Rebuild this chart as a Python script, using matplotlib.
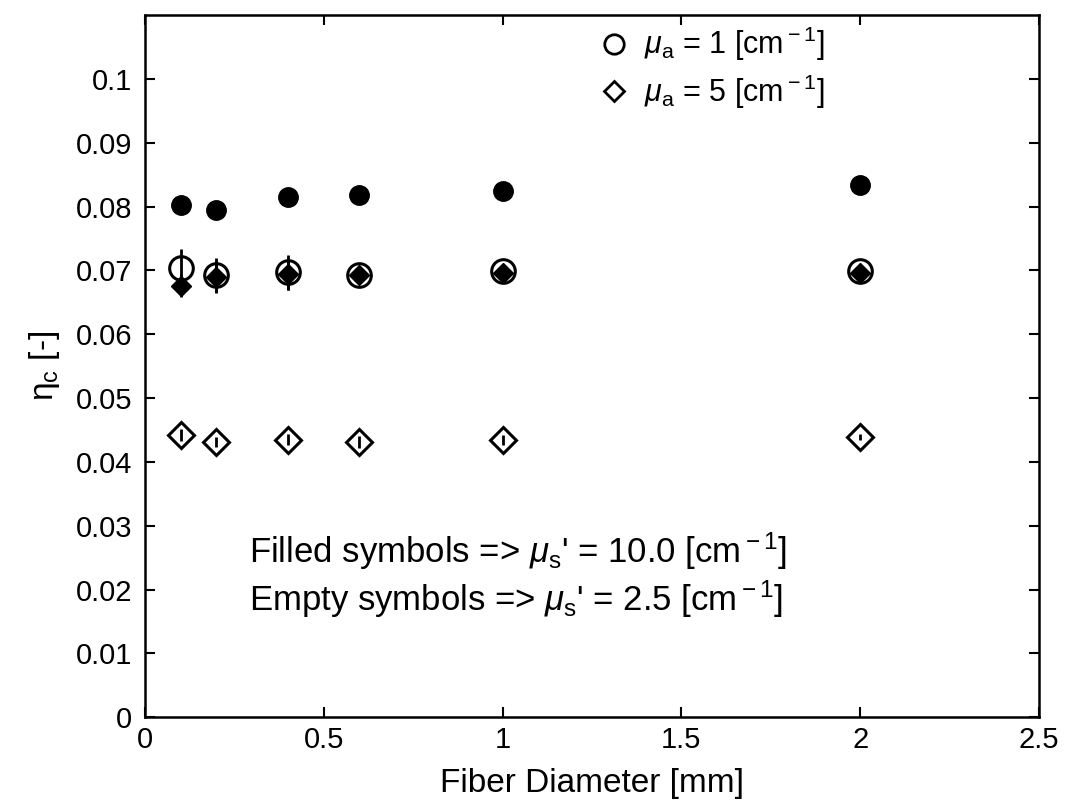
import matplotlib
matplotlib.use("Agg")
import matplotlib.pyplot as plt
from matplotlib.lines import Line2D

plt.rcParams['font.family'] = ['Liberation Sans', 'DejaVu Sans']
plt.rcParams['mathtext.fontset'] = 'custom'
plt.rcParams['mathtext.rm'] = 'Liberation Sans'
plt.rcParams['mathtext.it'] = 'Liberation Sans:italic'
plt.rcParams['mathtext.bf'] = 'Liberation Sans:bold'

# Diametro da fibra [mm]
diam = [0.1, 0.2, 0.4, 0.6, 1.0, 2.0]

# mu_a = 1, mu_s' = 10 (circulos cheios)
circ_cheio = [0.0803, 0.0794, 0.0815, 0.0818, 0.0824, 0.0834]
# mu_a = 1, mu_s' = 2.5 (circulos vazios)
circ_vazio = [0.0703, 0.0693, 0.0697, 0.0693, 0.0699, 0.0699]
circ_vazio_err = [0.0030, 0.0027, 0.0027, 0.0, 0.0, 0.0]
# mu_a = 5, mu_s' = 10 (losangos cheios)
los_cheio = [0.0676, 0.0690, 0.0694, 0.0693, 0.0696, 0.0696]
los_cheio_err = [0.0018, 0.0025, 0.0025, 0.0, 0.0, 0.0]
# mu_a = 5, mu_s' = 2.5 (losangos vazios)
los_vazio = [0.0442, 0.0431, 0.0435, 0.0431, 0.0434, 0.0439]
los_vazio_err = [0.0009, 0.0008, 0.0008, 0.0009, 0.0008, 0.0004]

fig = plt.figure(figsize=(10.65, 8.06), dpi=100)
ax = fig.add_axes([0.136, 0.110, 0.8396, 0.8714])

ax.errorbar(diam, los_cheio, yerr=los_cheio_err, fmt='D', color='black',
            ms=10, ecolor='black', elinewidth=2, capsize=0, zorder=3)
ax.plot(diam, circ_cheio, 'o', color='black', ms=14, zorder=3)
ax.errorbar(diam, circ_vazio, yerr=circ_vazio_err, fmt='o', mfc='none', mec='black',
            mew=2.2, ms=17, ecolor='black', elinewidth=2, capsize=0, zorder=4)
ax.errorbar(diam, los_vazio, yerr=los_vazio_err, fmt='D', mfc='none', mec='black',
            mew=2.2, ms=13, ecolor='black', elinewidth=2, capsize=0, zorder=4)

ax.set_xlim(0, 2.5)
ax.set_ylim(0, 0.11)
ax.set_xticks([0, 0.5, 1, 1.5, 2, 2.5])
ax.set_xticklabels(['0', '0.5', '1', '1.5', '2', '2.5'])
ax.set_yticks([0, 0.01, 0.02, 0.03, 0.04, 0.05, 0.06, 0.07, 0.08, 0.09, 0.1])
ax.set_yticklabels(['0', '0.01', '0.02', '0.03', '0.04', '0.05', '0.06',
                    '0.07', '0.08', '0.09', '0.1'])
ax.tick_params(direction='in', top=True, right=True, length=7, width=1.5,
               labelsize=21)
ax.tick_params(axis='y', pad=9)
ax.tick_params(axis='x', pad=6)
for s in ax.spines.values():
    s.set_linewidth(1.8)

ax.set_xlabel('Fiber Diameter [mm]', fontsize=24, labelpad=10)
ax.set_ylabel(r'η$_{\rm c}$ [-]', fontsize=24, labelpad=10)

# legenda so com os simbolos vazios
h1 = Line2D([], [], ls='none', marker='o', mfc='none', mec='black', mew=2, ms=14)
h2 = Line2D([], [], ls='none', marker='D', mfc='none', mec='black', mew=2, ms=10)
ax.legend([h1, h2], [r'$\mu_{\rm a}$ = 1 [cm$^{\rm -1}$]', r'$\mu_{\rm a}$ = 5 [cm$^{\rm -1}$]'],
          loc='upper left', bbox_to_anchor=(0.48, 1.025), frameon=False,
          fontsize=22, handlelength=0.8, handletextpad=0.6, labelspacing=0.3)

ax.text(0.29, 0.026, r"Filled symbols => $\mu_{\rm s}$' = 10.0 [cm$^{\rm -1}$]",
        fontsize=25, va='center')
ax.text(0.29, 0.0185, r"Empty symbols => $\mu_{\rm s}$' = 2.5 [cm$^{\rm -1}$]",
        fontsize=25, va='center')

fig.savefig('out.png', dpi=100)
